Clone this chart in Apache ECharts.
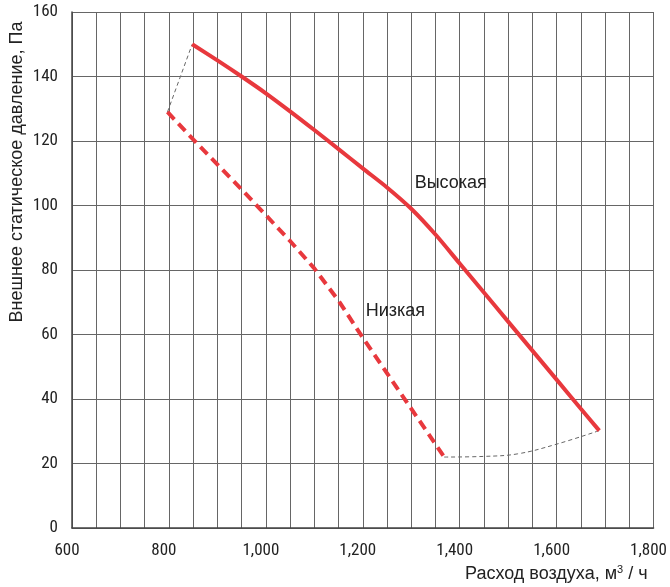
<!DOCTYPE html>
<html>
<head>
<meta charset="utf-8">
<script src="https://cdn.jsdelivr.net/npm/echarts@6/dist/echarts.min.js"></script>
<style>
  html, body { margin: 0; padding: 0; background: #fff; }
  #chart { width: 670px; height: 587px; }
</style>
</head>
<body>
<div id="chart"></div>
<script>
// Высокая скорость (сплошная)
const highFlow = [848, 900, 950, 1000, 1050, 1100, 1150, 1200, 1250, 1300, 1350, 1400, 1450, 1500, 1550, 1600, 1650, 1688]
const highPressure = [150, 145, 140, 134.8, 129.2, 123.4, 117.5, 111.5, 105.6, 99, 91, 82, 73, 64, 55, 46, 37, 30.2]

// Низкая скорость (штриховая)
const lowFlow = [797, 850, 950, 1050, 1100, 1150, 1200, 1300, 1368]
const lowPressure = [129, 120.5, 105, 89, 80.5, 70.5, 59, 37, 22]

// Границы рабочей зоны (тонкий пунктир)
const edgeTopFlow = [797, 848]
const edgeTopPressure = [129, 150]
const edgeBottomFlow = [1368, 1450, 1520, 1600, 1688]
const edgeBottomPressure = [22, 22.2, 23, 26, 30.2]

const xTicks = [600, 800, 1000, 1200, 1400, 1600, 1800]

const curveLabels = [
  { text: 'Высокая', at: [1307, 107] },
  { text: 'Низкая', at: [1206, 67.3] }
]

const red = '#e8383d'
const gridColor = '#666'
const textColor = '#222'
const font = 'Liberation Sans'
const narrow = "'Liberation Sans Narrow', 'Roboto Condensed', 'DejaVu Sans Condensed', sans-serif"

const zip = (xs, ys) => xs.map((x, i) => [x, ys[i]])

const labelPoint = (l) => ({
  symbol: 'circle',
  symbolSize: 0,
  label: { show: true, position: 'right', color: textColor, fontSize: 18, distance: 0, fontFamily: font },
  data: [{ coord: l.at, value: l.text }]
})

const chart = echarts.init(document.getElementById('chart'))

chart.setOption({
  animation: false,
  textStyle: { fontFamily: font },
  grid: { left: 72, right: 16, top: 12, bottom: 59 },
  graphic: [{
    type: 'text',
    x: 17,
    y: 172,
    rotation: Math.PI / 2,
    style: {
      text: 'Внешнее статическое давление, Па',
      fontFamily: font,
      fontSize: 18,
      fill: textColor,
      align: 'center',
      verticalAlign: 'middle'
    }
  }],
  xAxis: {
    type: 'value',
    min: xTicks[0],
    max: xTicks[xTicks.length - 1],
    interval: 50,
    axisLine: { show: true, lineStyle: { color: '#444', width: 1.5 } },
    axisTick: { show: false },
    splitLine: { lineStyle: { color: gridColor, width: 1 } },
    axisLabel: {
      color: textColor,
      fontSize: 17,
      fontFamily: narrow,
      margin: 14,
      padding: [0, 10, 0, 0],
      formatter: v => xTicks.includes(v) ? v.toLocaleString('en-US') : ''
    },
    name: '{t|Расход воздуха, м}{s|3}{t| / ч}',
    nameLocation: 'end',
    nameGap: 0,
    nameTextStyle: {
      align: 'right',
      verticalAlign: 'top',
      padding: [36, 6, 0, 0],
      rich: {
        t: { fontSize: 18, color: textColor, fontFamily: font },
        s: { fontSize: 11, color: textColor, fontFamily: font, padding: [0, 0, 9, 0] }
      }
    }
  },
  yAxis: {
    type: 'value',
    min: 0,
    max: 160,
    interval: 20,
    axisLine: { show: true, lineStyle: { color: '#444', width: 1.5 } },
    axisTick: { show: false },
    splitLine: { lineStyle: { color: gridColor, width: 1 } },
    axisLabel: { color: textColor, fontSize: 17, fontFamily: narrow, margin: 14, padding: [5, 0, 0, 0] }
  },
  series: [
    {
      type: 'line',
      data: zip(edgeTopFlow, edgeTopPressure),
      symbol: 'none',
      lineStyle: { color: '#666', width: 1, type: [4, 3] },
      z: 1
    },
    {
      type: 'line',
      data: zip(edgeBottomFlow, edgeBottomPressure),
      symbol: 'none',
      smooth: 0.4,
      lineStyle: { color: '#666', width: 1, type: [4, 3] },
      z: 1
    },
    {
      type: 'line',
      data: zip(highFlow, highPressure),
      symbol: 'none',
      smooth: 0.3,
      lineStyle: { color: red, width: 4 },
      z: 3,
      markPoint: labelPoint(curveLabels[0])
    },
    {
      type: 'line',
      data: zip(lowFlow, lowPressure),
      symbol: 'none',
      lineStyle: { color: red, width: 4, type: [10, 6] },
      z: 3,
      markPoint: labelPoint(curveLabels[1])
    }
  ]
})
</script>
</body>
</html>
